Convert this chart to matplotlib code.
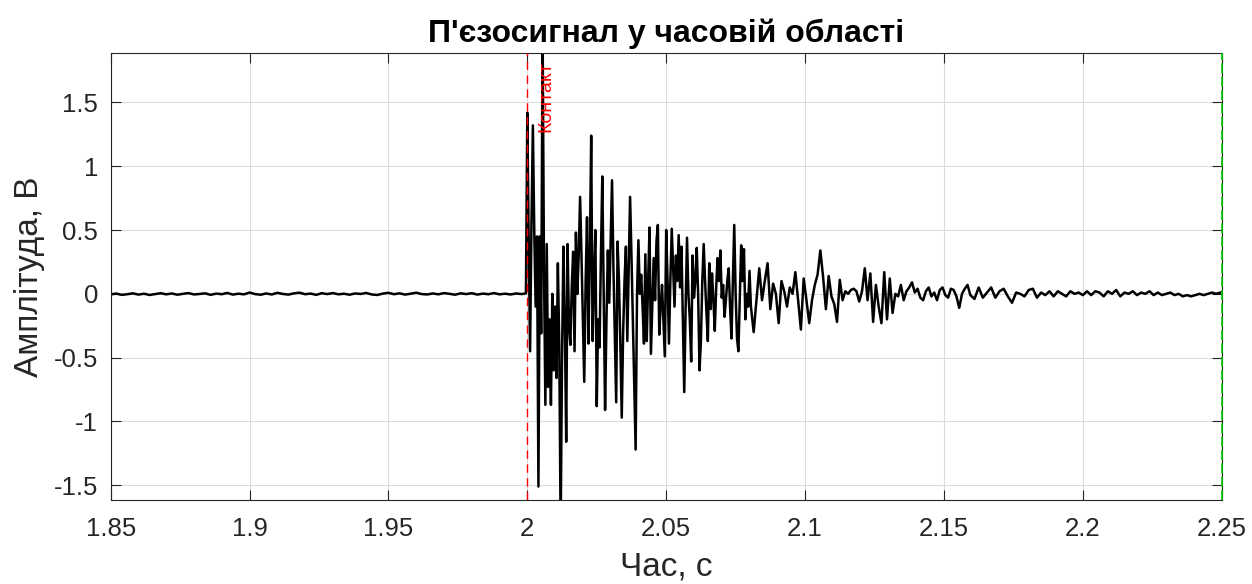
import numpy as np
import matplotlib
matplotlib.use("Agg")
import matplotlib.pyplot as plt

plt.rcParams['font.family'] = ['Liberation Sans', 'DejaVu Sans']

# ---- data ----
title_text = "П'єзосигнал у часовій області"
xlabel_text = "Час, с"
ylabel_text = "Амплітуда, В"
marker_text = "Контакт"
contact_time = 2.0
end_time = 2.25

# quiet segment before contact
quiet_start, quiet_dt = 1.85, 0.002
quiet_vals = [-0.004, 0.002, -0.008, -0.003, 0.004, -0.006, 0.001, -0.009, -0.002, 0.005,
              -0.004, 0.003, -0.007, 0.000, 0.006, -0.005, -0.001, 0.004, -0.008, 0.002,
              -0.003, 0.007, -0.006, 0.001, -0.004, 0.010, -0.002, -0.007, 0.003, -0.005,
              0.008, -0.001, -0.006, 0.004, 0.009, -0.003, 0.002, -0.008, 0.005, -0.002,
              0.006, -0.004, 0.001, -0.007, 0.003, -0.001, 0.007, -0.005, -0.009, 0.002,
              0.008, -0.003, 0.004, -0.006, 0.001, 0.009, -0.002, -0.005, 0.003, -0.004,
              0.006, 0.000, -0.007, 0.004, -0.002, 0.005, -0.006, 0.002, -0.003, 0.006,
              -0.004, 0.001, -0.005, 0.003, -0.002]

# burst segment right after contact
burst_start, burst_dt = 1.9995, 0.0005
burst_vals = [0.004, 1.42, 0.40, -0.45, 0.55, 1.32, 0.50, -0.10, 0.45, -1.51, 0.45,
              -0.31, 2.10, 0.20, -0.87, 0.39, -0.73, -0.20, -0.87, 0.00, -0.60,
              -0.10, -0.66, 0.24, -0.40, -1.85, -0.50, 0.37, -0.20, -1.16, 0.39,
              -0.25, -0.40, 0.05, 0.33, -0.45, 0.48, 0.00, 0.30, 0.76, 0.30,
              -0.20, -0.69, 0.10, 0.60, -0.39, 0.30, 1.24, -0.37, 0.10, 0.50,
              -0.88, -0.20, -0.42, 0.30, 0.92, 0.00, -0.91, -0.20, 0.34, -0.07,
              0.40, 0.89, 0.21, -0.30, -0.85, 0.41, 0.10, -0.40, -0.97, -0.30,
              0.10, 0.37, -0.37, 0.20, 0.76, 0.30, -0.20, -0.70, -1.22, 0.00,
              0.42, 0.00, 0.15, -0.10, -0.39, 0.31, -0.37, 0.10, 0.52, -0.47,
              -0.10, 0.28, -0.05, 0.41, 0.54, -0.32, -0.10, 0.07, -0.20, -0.49,
              0.50, 0.10, -0.39, 0.10, 0.51, 0.20, -0.10, 0.30, 0.10, 0.46,
              0.05, 0.37, -0.20, -0.77, -0.10, 0.44, 0.00, -0.20, -0.53, 0.30,
              -0.03, 0.10, 0.36, 0.00, -0.60, -0.37, 0.10, 0.39, 0.10, -0.15,
              -0.37, 0.24, -0.12, 0.16, -0.05, -0.29, 0.05, 0.28, 0.10, 0.34,
              -0.03, 0.07, -0.18, -0.05, 0.10, 0.20, -0.10, -0.35, 0.10, 0.54,
              0.00, -0.35, -0.45, -0.05, 0.38, 0.10, 0.35, -0.20, 0.00, -0.10,
              0.18]

# decaying segment
decay_start, decay_dt = 2.0805, 0.001
decay_vals = [-0.10, -0.30, -0.05, 0.20, -0.05, 0.10, 0.24, -0.12, 0.08, 0.00,
              -0.23, 0.10, 0.02, -0.10, 0.05, 0.00, 0.17, -0.05, -0.28, 0.12,
              -0.05, -0.23, -0.05, 0.07, 0.15, 0.34, 0.13, -0.12, 0.14, -0.02,
              -0.08, -0.22, 0.11, -0.05, 0.02, 0.00, 0.03, 0.04, 0.02, -0.06,
              0.02, 0.20, -0.05, 0.16, -0.22, 0.07, -0.10, -0.23, 0.17, -0.20,
              0.12, -0.15, 0.00, -0.02, 0.07, -0.05, 0.02, 0.05, 0.09, 0.01,
              0.04, -0.03, -0.05, 0.02, 0.05, -0.02, 0.01, -0.05, 0.03, 0.05,
              -0.01, -0.03, 0.04, 0.03, -0.02, -0.11, 0.00, 0.04, 0.07, -0.01]

# tail segment
tail_start, tail_dt = 2.161, 0.0015
tail_vals = [-0.04, 0.05, -0.03, 0.01, 0.05, -0.03, 0.02, 0.04, -0.02, -0.07,
             0.01, 0.00, -0.02, 0.03, 0.04, -0.03, 0.01, -0.01, 0.02, -0.02,
             0.02, 0.00, -0.02, 0.02, 0.00, 0.01, -0.01, 0.02, -0.01, 0.02,
             0.01, -0.02, 0.02, 0.00, 0.03, -0.02, 0.01, 0.00, 0.02, -0.01,
             0.01, 0.00, 0.02, -0.01, 0.01, -0.01, 0.00, 0.01, -0.01, 0.00,
             -0.02, -0.01, -0.02, -0.01, 0.00, -0.01, 0.00, 0.01, 0.00, 0.01]

x_ticks = [1.85, 1.9, 1.95, 2.0, 2.05, 2.1, 2.15, 2.2, 2.25]
x_tick_labels = ["1.85", "1.9", "1.95", "2", "2.05", "2.1", "2.15", "2.2", "2.25"]
y_ticks = [-1.5, -1.0, -0.5, 0.0, 0.5, 1.0, 1.5]
y_tick_labels = ["-1.5", "-1", "-0.5", "0", "0.5", "1", "1.5"]
x_limits = (1.85, 2.25)
y_limits = (-1.616, 1.885)

# ---- assemble time series ----
segments = [(quiet_start, quiet_dt, quiet_vals), (burst_start, burst_dt, burst_vals),
            (decay_start, decay_dt, decay_vals), (tail_start, tail_dt, tail_vals)]
t_all, v_all = [], []
for start, dt, vals in segments:
    t_all.append(start + dt * np.arange(len(vals)))
    v_all.append(np.asarray(vals))
t = np.concatenate(t_all)
v = np.concatenate(v_all)

# ---- figure ----
dark = '#262626'
fig = plt.figure(figsize=(12.52, 5.84), dpi=100)
ax = fig.add_axes([0.0884, 0.1438, 0.9758 - 0.0884, 0.9087 - 0.1438])

ax.plot(t, v, color='black', linewidth=1.8, zorder=2)
ax.axvline(contact_time, color=(1, 0, 0), linestyle=(0, (6, 4)), linewidth=1.0, zorder=3)
ax.axvline(end_time, color=(0, 0.8, 0), linestyle=(0, (6, 2)), linewidth=1.2, zorder=3, clip_on=False)
ax.text(contact_time + 0.0037, y_limits[1] - 0.06, marker_text, rotation=90, color='red',
        fontsize=14, ha='left', va='top')

ax.set_xlim(*x_limits)
ax.set_ylim(*y_limits)
ax.set_xticks(x_ticks)
ax.set_xticklabels(x_tick_labels)
ax.set_yticks(y_ticks)
ax.set_yticklabels(y_tick_labels)

ax.grid(True, color='#dcdcdc', linewidth=0.8)
ax.set_axisbelow(True)
ax.tick_params(direction='in', length=7, width=0.8, colors=dark, labelsize=18.5,
               top=True, right=True, pad=9)
ax.tick_params(axis='x', pad=12)
for s in ax.spines.values():
    s.set_color(dark)
    s.set_linewidth(0.8)

ax.set_title(title_text, fontsize=23, fontweight='bold', color='black', pad=8)
ax.set_xlabel(xlabel_text, fontsize=24, color=dark, labelpad=8)
ax.set_ylabel(ylabel_text, fontsize=24, color=dark, labelpad=6)

fig.savefig('out.png', dpi=100)
